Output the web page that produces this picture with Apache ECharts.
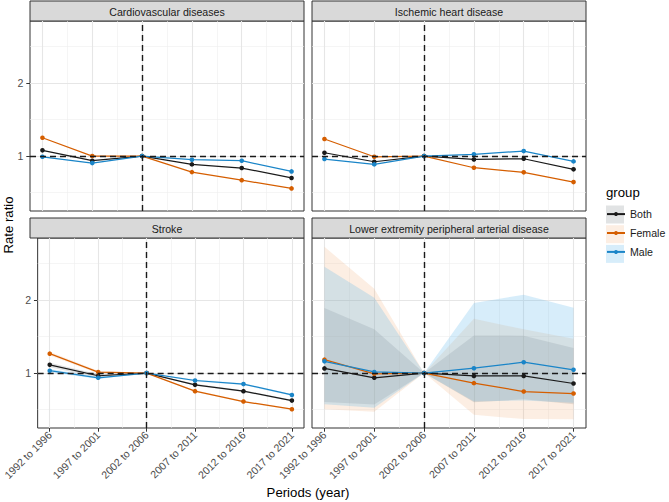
<!DOCTYPE html>
<html><head><meta charset="utf-8">
<script src="https://cdn.jsdelivr.net/npm/echarts@6/dist/echarts.min.js"></script>
<style>html,body{margin:0;padding:0;background:#fff}#c{width:669px;height:502px}</style>
</head><body><div id="c"></div>
<script>
// ---- data ----
const periods = ['1992 to 1996','1997 to 2001','2002 to 2006','2007 to 2011','2012 to 2016','2017 to 2021'];
const xPos = [1, 2, 3, 4, 5, 6];
const groups = ['Both', 'Female', 'Male'];
const panelTitles = ['Cardiovascular diseases', 'Ischemic heart disease', 'Stroke', 'Lower extremity peripheral arterial disease'];
const yTicks = [1, 2];
const yMinor = [0.5, 1.5, 2.5];
const xMinor = [1.5, 2.5, 3.5, 4.5, 5.5];
const refX = 3, refY = 1;

const cvdBoth   = [1.078, 0.936, 1, 0.886, 0.836, 0.700];
const cvdFemale = [1.250, 1.000, 1, 0.780, 0.670, 0.557];
const cvdMale   = [0.990, 0.904, 1, 0.950, 0.936, 0.790];

const ihdBoth   = [1.045, 0.922, 1, 0.954, 0.963, 0.818];
const ihdFemale = [1.233, 0.990, 1, 0.840, 0.777, 0.644];
const ihdMale   = [0.959, 0.886, 1, 1.023, 1.068, 0.927];

const strokeBoth   = [1.112, 0.963, 1, 0.839, 0.752, 0.623];
const strokeFemale = [1.265, 1.013, 1, 0.752, 0.610, 0.505];
const strokeMale   = [1.032, 0.935, 1, 0.898, 0.849, 0.700];
const strokeBothLo   = [1.080, 0.940, 1, 0.825, 0.740, 0.610];
const strokeBothHi   = [1.140, 0.985, 1, 0.853, 0.765, 0.636];
const strokeFemaleLo = [1.240, 0.995, 1, 0.740, 0.600, 0.495];
const strokeFemaleHi = [1.290, 1.030, 1, 0.765, 0.620, 0.515];
const strokeMaleLo   = [1.010, 0.920, 1, 0.885, 0.836, 0.688];
const strokeMaleHi   = [1.055, 0.950, 1, 0.910, 0.862, 0.712];

const lepadBoth   = [1.063, 0.935, 1, 0.961, 0.961, 0.857];
const lepadFemale = [1.183, 0.990, 1, 0.862, 0.747, 0.720];
const lepadMale   = [1.160, 1.015, 1, 1.066, 1.148, 1.045];
const lepadBothLo   = [0.605, 0.568, 1, 0.600, 0.640, 0.574];
const lepadBothHi   = [1.890, 1.600, 1, 1.513, 1.512, 1.344];
const lepadFemaleLo = [0.505, 0.470, 1, 0.430, 0.370, 0.367];
const lepadFemaleHi = [2.727, 2.155, 1, 1.742, 1.598, 1.468];
const lepadMaleLo   = [0.574, 0.525, 1, 0.610, 0.625, 0.595];
const lepadMaleHi   = [2.453, 2.030, 1, 1.960, 2.072, 1.894];

// ---- styling ----
const FONT = '"Liberation Sans", Arial, Helvetica, sans-serif';
const lineColors = {Both: '#1a1a1a', Female: '#D55E00', Male: '#1A85C8'};
const ribbonColors = {Both: 'rgba(140,148,150,0.26)', Female: 'rgba(239,163,107,0.19)', Male: 'rgba(86,180,233,0.24)'};
const majorGrid = {color: '#E6E6E6', width: 1.1, type: 'solid'};
const minorGrid = {color: '#EFEFEF', width: 0.6, type: 'solid'};

const panels = [
  {lines: {Both: cvdBoth, Female: cvdFemale, Male: cvdMale}, ribbons: null},
  {lines: {Both: ihdBoth, Female: ihdFemale, Male: ihdMale}, ribbons: null},
  {lines: {Both: strokeBoth, Female: strokeFemale, Male: strokeMale},
   ribbons: {Both: [strokeBothLo, strokeBothHi], Female: [strokeFemaleLo, strokeFemaleHi], Male: [strokeMaleLo, strokeMaleHi]}},
  {lines: {Both: lepadBoth, Female: lepadFemale, Male: lepadMale},
   ribbons: {Both: [lepadBothLo, lepadBothHi], Female: [lepadFemaleLo, lepadFemaleHi], Male: [lepadMaleLo, lepadMaleHi]}}
];
const layout = [{left: 30, top: 21}, {left: 312, top: 21}, {left: 30, top: 238}, {left: 312, top: 238}];
const W = 274, H = 190, STRIP = 20;

const grid = [], xAxis = [], yAxis = [], series = [], graphic = [];

layout.forEach((L, i) => {
  const bottom = i >= 2, leftCol = (i % 2 === 0);
  grid.push({left: L.left, top: L.top, width: W, height: H, show: true,
    borderColor: '#333333', borderWidth: 1, backgroundColor: '#ffffff', containLabel: false});
  xAxis.push({type: 'value', gridIndex: i, min: 0.75, max: 6.25,
    axisLine: {show: false}, splitLine: {show: false},
    axisTick: {show: bottom, customValues: xPos, length: 3.7, lineStyle: {color: '#333333', width: 1}},
    axisLabel: {show: bottom, customValues: xPos, rotate: 45, fontSize: 10.6, color: '#4D4D4D',
      fontFamily: FONT, margin: 5, formatter: v => periods[xPos.indexOf(v)] || ''}});
  yAxis.push({type: 'value', gridIndex: i, min: 0.248, max: 2.848,
    axisLine: {show: false}, splitLine: {show: false},
    axisTick: {show: leftCol, customValues: yTicks, length: 3.7, lineStyle: {color: '#333333', width: 1}},
    axisLabel: {show: leftCol, customValues: yTicks, fontSize: 10.6, color: '#4D4D4D', fontFamily: FONT, margin: 6.6}});

  // grid lines
  const gl = [];
  xMinor.forEach(v => gl.push({xAxis: v, lineStyle: minorGrid}));
  yMinor.forEach(v => gl.push({yAxis: v, lineStyle: minorGrid}));
  xPos.forEach(v => gl.push({xAxis: v, lineStyle: majorGrid}));
  yTicks.forEach(v => gl.push({yAxis: v, lineStyle: majorGrid}));
  series.push({type: 'line', xAxisIndex: i, yAxisIndex: i, data: [], z: 1, silent: true,
    markLine: {z: 1, silent: true, animation: false, symbol: ['none', 'none'], label: {show: false}, data: gl}});

  const P = panels[i];
  if (P.ribbons) {
    groups.forEach(g => {
      const lo = P.ribbons[g][0], hi = P.ribbons[g][1];
      series.push({type: 'custom', name: g + ' CI', xAxisIndex: i, yAxisIndex: i, z: 2, silent: true,
        data: xPos.map((x, k) => [x, lo[k], hi[k]]),
        encode: {x: 0, y: [1, 2]},
        renderItem: function (params, api) {
          if (params.dataIndex !== 0) return null;
          const pts = [];
          for (let k = 0; k < xPos.length; k++) pts.push(api.coord([xPos[k], hi[k]]));
          for (let k = xPos.length - 1; k >= 0; k--) pts.push(api.coord([xPos[k], lo[k]]));
          return {type: 'polygon', shape: {points: pts}, style: {fill: ribbonColors[g], stroke: null}};
        }});
    });
  }
  groups.forEach(g => {
    const vals = P.lines[g];
    series.push({type: 'line', name: g, xAxisIndex: i, yAxisIndex: i, z: 3,
      data: xPos.map((x, k) => [x, vals[k]]),
      symbol: 'circle', symbolSize: 4.6, showSymbol: true,
      lineStyle: {width: 1.25, color: lineColors[g]}, itemStyle: {color: lineColors[g]}});
  });
  series.push({type: 'line', xAxisIndex: i, yAxisIndex: i, data: [], z: 4, silent: true,
    markLine: {z: 4, silent: true, animation: false, symbol: ['none', 'none'], label: {show: false},
      lineStyle: {type: [6, 4], color: '#1a1a1a', width: 1.4},
      data: [{xAxis: refX}, {yAxis: refY}]}});

  // strip
  const sy = L.top - STRIP;
  graphic.push({type: 'rect', shape: {x: L.left, y: sy, width: W, height: STRIP},
    style: {fill: '#D9D9D9', stroke: '#333333', lineWidth: 1}, z: 0, silent: true});
  graphic.push({type: 'text', x: L.left + W / 2, y: sy + STRIP / 2 + 0.5,
    style: {text: panelTitles[i], fill: '#1A1A1A', font: '10.6px ' + FONT, textAlign: 'center', textVerticalAlign: 'middle'}, z: 1, silent: true});
});

// axis titles
graphic.push({type: 'text', x: 8, y: 225, rotation: Math.PI / 2,
  style: {text: 'Rate ratio', fill: '#000000', font: '13.2px ' + FONT, textAlign: 'center', textVerticalAlign: 'middle'}, silent: true});
graphic.push({type: 'text', x: 308, y: 492,
  style: {text: 'Periods (year)', fill: '#000000', font: '13.2px ' + FONT, textAlign: 'center', textVerticalAlign: 'middle'}, silent: true});
// legend title and key backgrounds
graphic.push({type: 'text', x: 606, y: 192,
  style: {text: 'group', fill: '#000000', font: '13.2px ' + FONT, textAlign: 'left', textVerticalAlign: 'middle'}, silent: true});
groups.forEach((g, k) => {
  graphic.push({type: 'rect', shape: {x: 606, y: 205.5 + k * 19.7, width: 18, height: 18},
    style: {fill: ribbonColors[g], stroke: null}, z: 0, silent: true});
});

const chart = echarts.init(document.getElementById('c'), null, {renderer: 'svg'});
chart.setOption({
  animation: false,
  backgroundColor: '#ffffff',
  grid, xAxis, yAxis, series, graphic,
  legend: {data: groups, orient: 'vertical', left: 601, top: 203.6, padding: 5, itemWidth: 18, itemHeight: 5, itemGap: 7.9,
    selectedMode: false, textStyle: {fontSize: 10.6, color: '#1a1a1a', fontFamily: FONT}}
});
</script>
</body></html>
